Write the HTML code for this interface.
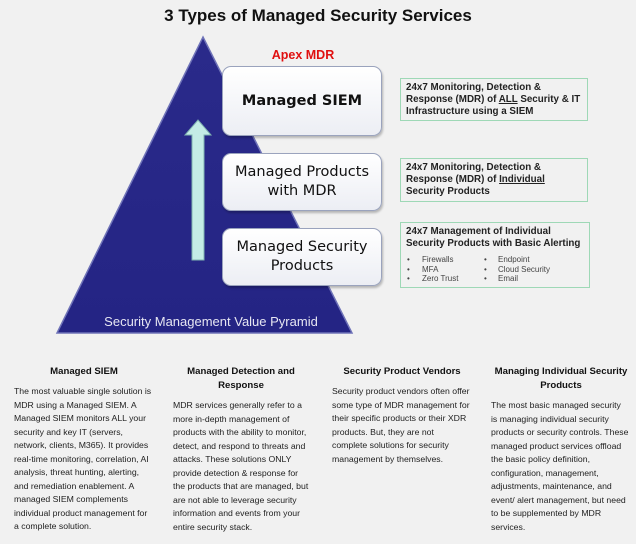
<!DOCTYPE html>
<html><head><meta charset="utf-8"><style>
body{margin:0;width:636px;height:544px;background:#f1f1f1;font-family:"Liberation Sans",sans-serif;position:relative;overflow:hidden}
.a{position:absolute}
.title{left:0;width:636px;top:6px;text-align:center;font-weight:bold;font-size:17px;color:#111}
.box{position:absolute;left:222px;width:158px;background:linear-gradient(#ffffff,#eceef4);border:1px solid #9aa3bd;border-radius:9px;box-shadow:1px 2px 2px rgba(0,0,0,.25);display:flex;align-items:center;justify-content:center;text-align:center;font-family:"DejaVu Sans",sans-serif;color:#111;font-size:14.5px;line-height:19px;white-space:nowrap}
.rb{position:absolute;left:400px;width:188px;border:1px solid #9ed8b6;background:#f1f1f1;font-weight:bold;font-size:9.8px;line-height:12px;color:#222;padding:3px 0 0 5px;box-sizing:border-box;white-space:nowrap}
.h{position:absolute;font-weight:bold;font-size:9.6px;line-height:13.5px;text-align:center;color:#111}
.p{position:absolute;font-size:8.7px;line-height:13.5px;color:#222;white-space:nowrap}
.li{position:absolute;font-weight:normal;font-size:8px;color:#444}
</style></head><body>
<div class="a title">3 Types of Managed Security Services</div>
<svg class="a" style="left:0;top:0" width="636" height="360">
<defs><linearGradient id="g" x1="0" y1="0" x2="0" y2="1"><stop offset="0" stop-color="#2a2a8a"/><stop offset="1" stop-color="#242484"/></linearGradient></defs>
<polygon points="203,37 352,333 57,333" fill="url(#g)" stroke="#6f73b8" stroke-width="1.5"/>
<polygon points="192,260 204,260 204,135 211,135 198,120 185,135 192,135" fill="#c4ece6" stroke="#7fb3b0" stroke-width="1"/>
<text x="211" y="326" text-anchor="middle" fill="#e6e6f2" font-size="13" font-family="Liberation Sans, sans-serif">Security Management Value Pyramid</text>
<text x="303" y="59" text-anchor="middle" fill="#e01010" font-size="12.5" font-weight="bold" font-family="Liberation Sans, sans-serif">Apex MDR</text>
</svg>
<div class="box" style="top:66px;height:68px;font-weight:bold;font-size:14.5px">Managed SIEM</div>
<div class="box" style="top:153px;height:56px">Managed Products<br>with MDR</div>
<div class="box" style="top:228px;height:56px">Managed Security<br>Products</div>
<div class="rb" style="top:78px;height:43px">24x7 Monitoring, Detection &amp;<br>Response (MDR) of <u>ALL</u> Security &amp; IT<br>Infrastructure using a SIEM</div>
<div class="rb" style="top:158px;height:44px">24x7 Monitoring, Detection &amp;<br>Response (MDR) of <u>Individual</u><br>Security Products</div>
<div class="rb" style="top:222px;height:66px;width:190px">24x7 Management of Individual<br>Security Products with Basic Alerting
<div class="li" style="left:6px;top:32px;line-height:9.5px">•<br>•<br>•</div>
<div class="li" style="left:21px;top:32px;line-height:9.5px">Firewalls<br>MFA<br>Zero Trust</div>
<div class="li" style="left:83px;top:32px;line-height:9.5px">•<br>•<br>•</div>
<div class="li" style="left:97px;top:32px;line-height:9.5px">Endpoint<br>Cloud Security<br>Email</div>
</div>
<div class="h" style="left:14px;width:140px;top:365px">Managed SIEM</div>
<div class="p" style="left:14px;top:385px">The most valuable single solution is<br>MDR using a Managed SIEM. A<br>Managed SIEM monitors ALL your<br>security and key IT (servers,<br>network, clients, M365). It provides<br>real-time monitoring, correlation, AI<br>analysis, threat hunting, alerting,<br>and remediation enablement. A<br>managed SIEM complements<br>individual product management for<br>a complete solution.</div>
<div class="h" style="left:166px;width:150px;top:365px">Managed Detection and<br>Response</div>
<div class="p" style="left:173px;top:399px">MDR services generally refer to a<br>more in-depth management of<br>products with the ability to monitor,<br>detect, and respond to threats and<br>attacks. These solutions ONLY<br>provide detection &amp; response for<br>the products that are managed, but<br>are not able to leverage security<br>information and events from your<br>entire security stack.</div>
<div class="h" style="left:327px;width:150px;top:365px">Security Product Vendors</div>
<div class="p" style="left:332px;top:385px">Security product vendors often offer<br>some type of MDR management for<br>their specific products or their XDR<br>products. But, they are not<br>complete solutions for security<br>management by themselves.</div>
<div class="h" style="left:486px;width:150px;top:365px">Managing Individual Security<br>Products</div>
<div class="p" style="left:491px;top:399px">The most basic managed security<br>is managing individual security<br>products or security controls. These<br>managed product services offload<br>the basic policy definition,<br>configuration, management,<br>adjustments, maintenance, and<br>event/ alert management, but need<br>to be supplemented by MDR<br>services.</div>
</body></html>
